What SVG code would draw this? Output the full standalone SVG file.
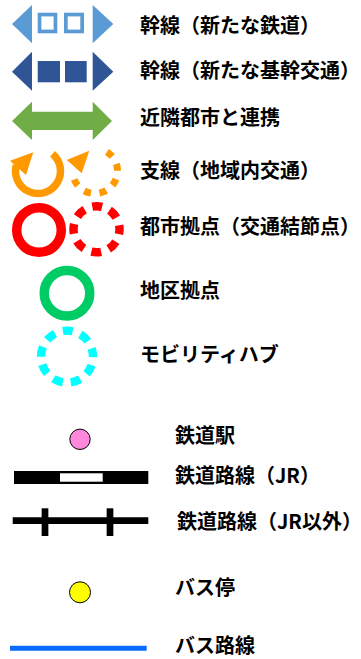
<svg xmlns="http://www.w3.org/2000/svg" width="361" height="659" viewBox="0 0 361 659">
<style>
text{font-family:"Noto Sans CJK JP","Noto Sans CJK SC",sans-serif;font-weight:bold;font-size:20px;fill:#000}
.lb{fill:#5B9BD5}
.db{fill:#2F5597}
.ring{fill:none}
</style>
<rect width="361" height="659" fill="#fff"/>
<g id="trunk-rail">
<polygon class="lb" points="12,24 32,5 32,43.3"/>
<polygon class="lb" points="113.3,24 92.7,5 92.7,43.3"/>
<rect x="39.55" y="14.55" width="15.9" height="16.9" fill="#fff" stroke="#5B9BD5" stroke-width="3.7"/>
<rect x="65.85" y="14.55" width="16.3" height="16.9" fill="#fff" stroke="#5B9BD5" stroke-width="3.7"/>
<text x="140" y="32.6">幹線（新たな鉄道）</text>
</g>
<g id="trunk-transit">
<polygon class="db" points="12,71.7 32,51.7 32,90.7"/>
<polygon class="db" points="113.3,71.7 92.7,51.7 92.7,90.7"/>
<rect class="db" x="37.7" y="61" width="22.3" height="21.3"/>
<rect class="db" x="65" y="61" width="21.7" height="21.3"/>
<text x="140" y="78">幹線（新たな基幹交通）</text>
</g>
<g id="neighbor-link">
<polygon fill="#70AD47" points="12,121 32,101.7 32,111.7 92.7,111.7 92.7,101.7 112,121 92.7,140 92.7,130 32,130 32,140"/>
<text x="140" y="125">近隣都市と連携</text>
</g>
<g id="branch-line">
<path class="ring" d="M52.46,153.76 A22.5,22.5 0 1 1 16.27,165.18" stroke="#FF9900" stroke-width="7.5"/>
<polygon fill="#FF9900" points="10,160.7 33.3,152.3 26,175"/>
<path class="ring" d="M106.92,151.92 A22.5,22.5 0 1 1 74.14,179.43" stroke="#FF9900" stroke-width="7" stroke-dasharray="7 8.5"/>
<polygon fill="#FF9900" points="66.7,160 89.3,150.7 81.7,173.3"/>
<text x="140" y="177.6">支線（地域内交通）</text>
</g>
<g id="city-hub">
<circle class="ring" cx="39" cy="230" r="22.3" stroke="#FF0000" stroke-width="9.5"/>
<circle class="ring" cx="96.5" cy="229.3" r="23" stroke="#FF0000" stroke-width="8.5" stroke-dasharray="10 8.06" stroke-dashoffset="5"/>
<text x="140" y="233.8">都市拠点（交通結節点）</text>
</g>
<g id="district-hub">
<circle class="ring" cx="67" cy="293.3" r="22.75" stroke="#00CC66" stroke-width="9.5"/>
<text x="140" y="297.6">地区拠点</text>
</g>
<g id="mobility-hub">
<circle class="ring" cx="67" cy="356.7" r="26" stroke="#00FFFF" stroke-width="8.3" stroke-dasharray="10 8.15" stroke-dashoffset="9.54"/>
<text x="140" y="361.8">モビリティハブ</text>
</g>
<g id="station">
<circle cx="80" cy="439.3" r="10.2" fill="#FF88DD" stroke="#000" stroke-width="1"/>
<text x="175" y="443.4">鉄道駅</text>
</g>
<g id="jr-line">
<rect x="14" y="471" width="134.3" height="13" fill="#000"/>
<rect x="60" y="473.3" width="42.7" height="8.4" fill="#fff"/>
<text x="175" y="482.6">鉄道路線（JR）</text>
</g>
<g id="non-jr-line">
<line x1="12.7" y1="520.7" x2="148.3" y2="520.7" stroke="#000" stroke-width="6.7"/>
<line x1="45" y1="508.3" x2="45" y2="536" stroke="#000" stroke-width="6.7"/>
<line x1="110" y1="508.3" x2="110" y2="536" stroke="#000" stroke-width="6.7"/>
<text x="177" y="529.3">鉄道路線（JR以外）</text>
</g>
<g id="bus-stop">
<circle cx="80" cy="592.3" r="10.5" fill="#FFFF00" stroke="#000" stroke-width="1"/>
<text x="175" y="595">バス停</text>
</g>
<g id="bus-route">
<line x1="10" y1="648.3" x2="146.7" y2="648.3" stroke="#0A6CFF" stroke-width="5"/>
<text x="175" y="652.5">バス路線</text>
</g>
<g id="connectors"/>
</svg>
